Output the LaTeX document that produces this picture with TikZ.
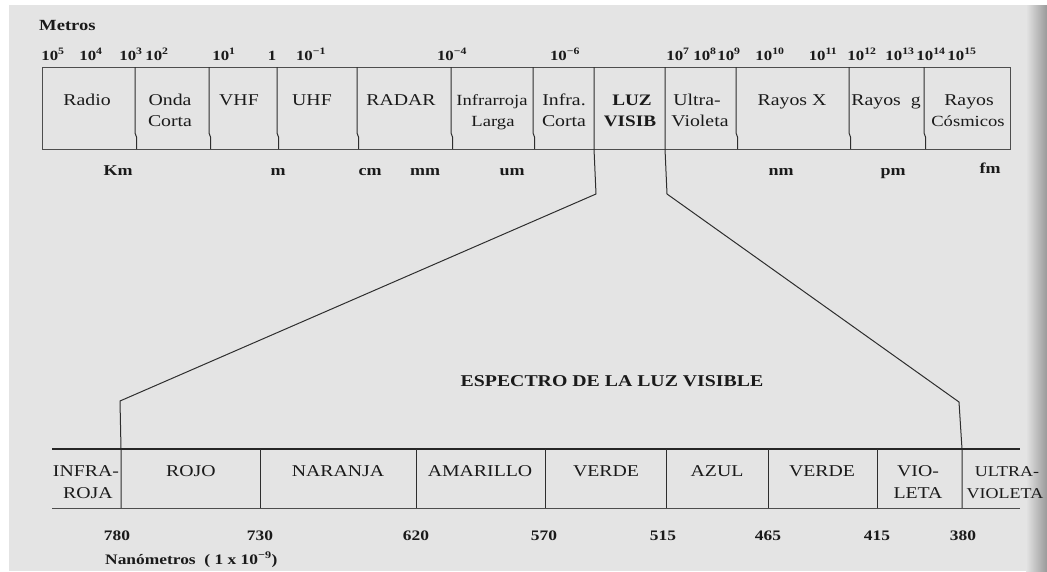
\documentclass[tikz,border=0pt]{standalone}
\usepackage{fontspec}
\setmainfont[FakeStretch=1.2]{Liberation Serif}
\definecolor{paper}{HTML}{E4E4E4}
\definecolor{ink}{HTML}{1A1A1A}
\definecolor{rule}{HTML}{2E2E2E}
\newcommand{\pw}[1]{10\textsuperscript{#1}}
\begin{document}
\begin{tikzpicture}[x=1pt,y=-1pt,
  edge/.style={draw=rule,line width=1pt,line join=round},
  ln/.style={draw=rule!85,line width=1pt},
  boxtxt/.style={font=\fontsize{16.5}{19}\selectfont,text=ink,anchor=base,inner sep=0pt},
  boxtight/.style={boxtxt,font=\fontsize{15.5}{19}\selectfont},
  boxbold/.style={boxtxt,font=\fontsize{16}{19}\selectfont\bfseries},
  colortxt/.style={font=\fontsize{16.5}{19}\selectfont,text=ink,anchor=base,inner sep=0pt},
  exptxt/.style={font=\fontsize{14}{16}\selectfont\bfseries,text=ink,anchor=base,inner sep=0pt},
  unittxt/.style={font=\fontsize{15}{17}\selectfont\bfseries,text=ink,anchor=base,inner sep=0pt},
  numtxt/.style={font=\fontsize{14.5}{17}\selectfont\bfseries,text=ink,anchor=base,inner sep=0pt}]

% page and background
\useasboundingbox (0,0) rectangle (1047,571);
\fill[white] (0,0) rectangle (1047,571);
\fill[paper] (9,5) rectangle (1047,571);
\shade[left color=paper,right color=black!40] (1026,5) rectangle (1047,571);

% ---------- electromagnetic spectrum ----------
\node[unittxt,anchor=base west,font=\fontsize{15.5}{17}\selectfont\bfseries] (metros) at (39,30) {Metros};

% wavelength marks
\node[exptxt] (e5)  at (53,60)  {\pw{5}};
\node[exptxt] (e4)  at (91,60)  {\pw{4}};
\node[exptxt] (e3)  at (131,60) {\pw{3}};
\node[exptxt] (e2)  at (157,60) {\pw{2}};
\node[exptxt] (e1)  at (224,60) {\pw{1}};
\node[exptxt] (e0)  at (272,60) {1};
\node[exptxt] (em1) at (311,60) {\pw{−1}};
\node[exptxt] (em4) at (452,60) {\pw{−4}};
\node[exptxt] (em6) at (565,60) {\pw{−6}};
\node[exptxt] (em7) at (678,60) {\pw{7}};
\node[exptxt] (em8) at (705,60) {\pw{8}};
\node[exptxt] (em9) at (729,60) {\pw{9}};
\node[exptxt] (em10) at (770,60) {\pw{10}};
\node[exptxt] (em11) at (823,60) {\pw{11}};
\node[exptxt] (em12) at (862,60) {\pw{12}};
\node[exptxt] (em13) at (900,60) {\pw{13}};
\node[exptxt] (em14) at (931,60) {\pw{14}};
\node[exptxt] (em15) at (962,60) {\pw{15}};

% outer frame of the band table
\draw[ln] (42,67) rectangle (1010,149);
% band separators (small jog near the foot of each)
\foreach \x in {135,209,277,357,451,533,736,849,924}
  \draw[edge] (\x,67) -- (\x,133) -- (\x+1.5,137) -- (\x+1.5,149);

% band names
\node[boxtxt] (radio) at (87,105) {Radio};
\node[boxtxt] (onda1) at (170,105) {Onda};
\node[boxtxt] (onda2) at (170,126) {Corta};
\node[boxtxt] (vhf) at (239,105) {VHF};
\node[boxtxt] (uhf) at (312,105) {UHF};
\node[boxtxt] (radar) at (401,105) {RADAR};
\node[boxtight] (irl1) at (492,105) {Infrarroja};
\node[boxtight] (irl2) at (493,126) {Larga};
\node[boxtxt] (irc1) at (564,105) {Infra.};
\node[boxtxt] (irc2) at (564,126) {Corta};
\node[boxbold] (luz1) at (632,105) {LUZ};
\node[boxbold] (luz2) at (630,126) {VISIB};
\node[boxtxt] (uv1) at (697,105) {Ultra-};
\node[boxtxt] (uv2) at (700,126) {Violeta};
\node[boxtxt] (rx) at (792,105) {Rayos X};
\node[boxtxt] (rg) at (886,105) {Rayos\ \ g};
\node[boxtxt] (rc1) at (969,105) {Rayos};
\node[boxtight] (rc2) at (968,126) {Cósmicos};

% length units
\node[unittxt] (km) at (118,175) {Km};
\node[unittxt] (m)  at (278,175) {m};
\node[unittxt] (cm) at (370,175) {cm};
\node[unittxt] (mm) at (425,175) {mm};
\node[unittxt] (um) at (512,175) {um};
\node[unittxt] (nm) at (781,175) {nm};
\node[unittxt] (pm) at (893,175) {pm};
\node[unittxt] (fm) at (990,173) {fm};

% ---------- zoom of the visible band ----------
\coordinate (luzL) at (594,67);
\coordinate (luzR) at (665,67);
\coordinate (bendL) at (596,194);
\coordinate (bendR) at (667,194);
\coordinate (footL) at (120,401);
\coordinate (footR) at (959,402);
\coordinate (irL) at (121,508);
\coordinate (uvR) at (962,508);
\draw[edge] (luzL) -- (594,149) -- (bendL) -- (footL) -- (121,449) -- (irL);
\draw[edge] (luzR) -- (665,149) -- (bendR) -- (footR) -- (962,449) -- (uvR);

\node[font=\fontsize{16.5}{19}\selectfont\bfseries,text=ink,anchor=base,inner sep=0pt] (title) at (612,386) {ESPECTRO DE LA LUZ VISIBLE};

% visible band table
\draw[draw=black!85,line width=1.1pt] (52,449) -- (1020,449);
\draw[ln] (52,508) -- (1020,508);
\foreach \x in {260,416,545,666,768,877}
  \draw[edge] (\x,449) -- (\x,508);

\node[colortxt] (ir1) at (86,476) {INFRA-};
\node[colortxt] (ir2) at (88,498) {ROJA};
\node[colortxt] (rojo) at (191,476) {ROJO};
\node[colortxt] (naranja) at (338,476) {NARANJA};
\node[colortxt] (amarillo) at (480,476) {AMARILLO};
\node[colortxt] (verde1) at (606,476) {VERDE};
\node[colortxt] (azul) at (717,476) {AZUL};
\node[colortxt] (verde2) at (822,476) {VERDE};
\node[colortxt] (vio1) at (918,476) {VIO-};
\node[colortxt] (vio2) at (918,498) {LETA};
\node[colortxt,font=\fontsize{15}{18}\selectfont] (uvb1) at (1007,476) {ULTRA-};
\node[colortxt,font=\fontsize{15}{18}\selectfont] (uvb2) at (1005,498) {VIOLETA};

% wavelength limits in nm
\node[numtxt] (n780) at (117,540) {780};
\node[numtxt] (n730) at (260,540) {730};
\node[numtxt] (n620) at (416,540) {620};
\node[numtxt] (n570) at (544,540) {570};
\node[numtxt] (n515) at (663,540) {515};
\node[numtxt] (n465) at (768,540) {465};
\node[numtxt] (n415) at (877,540) {415};
\node[numtxt] (n380) at (963,540) {380};

\node[numtxt,anchor=base west,font=\fontsize{14.5}{17}\selectfont\bfseries] (nano) at (105,564) {Nanómetros\ \ ( 1 x \pw{−9})};
\end{tikzpicture}
\end{document}
